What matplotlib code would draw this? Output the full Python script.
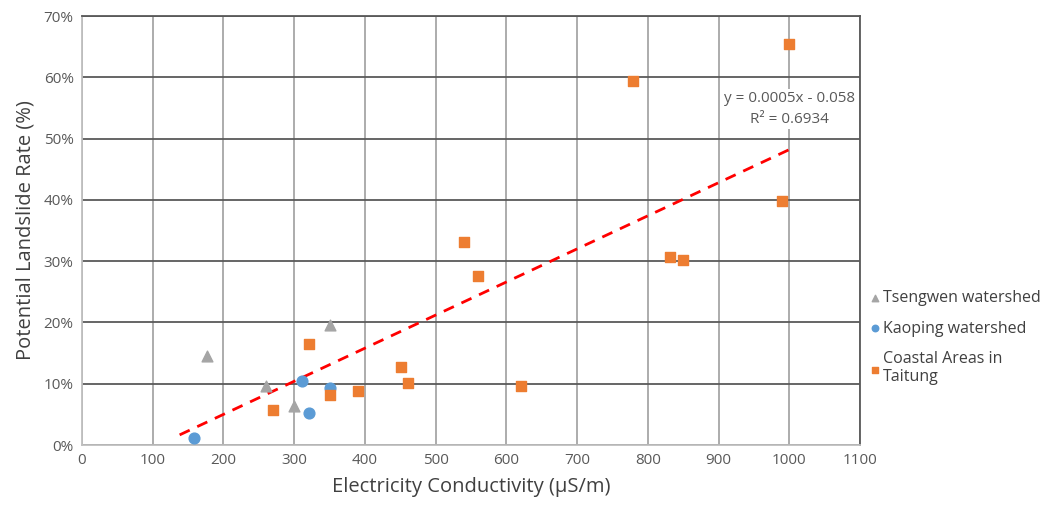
import matplotlib
matplotlib.use("Agg")
import matplotlib.pyplot as plt
import numpy as np
from matplotlib.ticker import FuncFormatter, MultipleLocator

# Dados (x em µS/m, y em fração)
tseng_x = [176, 260, 300, 351]
tseng_y = [0.145, 0.096, 0.064, 0.196]

kaop_x = [159, 311, 321, 351]
kaop_y = [0.011, 0.105, 0.053, 0.093]

coast_x = [270, 321, 351, 390, 451, 461, 540, 560, 620, 779, 832, 850, 990, 1000]
coast_y = [0.057, 0.165, 0.082, 0.088, 0.127, 0.101, 0.331, 0.275, 0.097,
           0.594, 0.307, 0.302, 0.398, 0.655]

# Linha de tendência
fit_slope = 0.00054
fit_intercept = -0.058
fit_range = [138, 1000]

COR_TRI = "#a5a5a5"
COR_CIRC = "#5b9bd5"
COR_QUAD = "#ed7d31"

plt.rcParams["font.family"] = ["Open Sans", "DejaVu Sans"]

fig = plt.figure(figsize=(10.53, 5.08), dpi=100)
ax = fig.add_axes([0.0779, 0.124, 0.7388, 0.8445])

ax.set_xlim(0, 1100)
ax.set_ylim(0, 0.70)
ax.xaxis.set_major_locator(MultipleLocator(100))
ax.yaxis.set_major_locator(MultipleLocator(0.10))
ax.yaxis.set_major_formatter(FuncFormatter(lambda v, p: f"{v*100:.0f}%"))

ax.grid(axis="x", color="#a6a6a6", linewidth=1.3, zorder=0)
ax.grid(axis="y", color="#595959", linewidth=1.3, zorder=0)
ax.set_axisbelow(True)
for lado in ["top", "right"]:
    ax.spines[lado].set_color("#595959")
    ax.spines[lado].set_linewidth(1.3)
for lado in ["left", "bottom"]:
    ax.spines[lado].set_color("#bfbfbf")
    ax.spines[lado].set_linewidth(1.3)
ax.tick_params(length=0, labelsize=11, colors="#595959", pad=6)

xs = np.array(fit_range)
ax.plot(xs, fit_slope * xs + fit_intercept, color="#ff0000", linestyle=(0, (4, 3)),
        linewidth=2, zorder=2)

ax.text(1000, 0.548, "y = 0.0005x - 0.058\nR² = 0.6934", ha="center", va="center",
        fontsize=11, color="#595959", linespacing=1.6, zorder=2.5,
        bbox=dict(facecolor="white", edgecolor="none", pad=1))

ax.scatter(tseng_x, tseng_y, marker="^", s=60, color=COR_TRI, zorder=3,
           label="Tsengwen watershed")
ax.scatter(kaop_x, kaop_y, marker="o", s=60, color=COR_CIRC, zorder=3,
           label="Kaoping watershed")
ax.scatter(coast_x, coast_y, marker="s", s=60, color=COR_QUAD, zorder=3,
           label="Coastal Areas in\nTaitung")

ax.set_xlabel("Electricity Conductivity (µS/m)", fontsize=14.5, color="#404040", labelpad=6)
ax.set_ylabel("Potential Landslide Rate (%)", fontsize=14.5, color="#404040", labelpad=6)

handles, labels = ax.get_legend_handles_labels()
fig.legend(handles, labels, loc="center left", bbox_to_anchor=(0.813, 0.335),
           frameon=False, fontsize=11.5, handletextpad=0.0, labelspacing=0.9,
           markerscale=0.6, labelcolor="#404040", handlelength=1.0, borderpad=0.2)

fig.savefig("out.png", dpi=100)
